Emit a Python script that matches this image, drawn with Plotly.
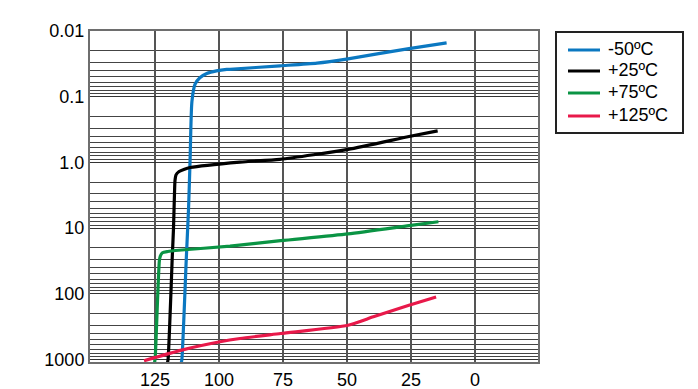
import plotly.graph_objects as go

# Data (x: temperature axis value, y: log value)
names = ["-50ºC", "+25ºC", "+75ºC", "+125ºC"]
colors = ["#0B78C1", "#000000", "#0A9444", "#E8194A"]

x_m50 = [114.8, 114.5, 112.8, 111.9, 111.3, 110.6, 109.4, 107.5, 104.8, 101.0, 97.0, 95.7, 76.2, 61.7, 49.6, 25.8, 11.1]
y_m50 = [1150, 1000, 30, 5.0, 0.9, 0.12, 0.065, 0.0515, 0.0445, 0.0405, 0.0385, 0.0383, 0.0339, 0.0308, 0.0265, 0.0185, 0.0152]

x_p25 = [120.2, 119.9, 118.2, 117.8, 117.4, 117.2, 116.8, 115.6, 113.5, 111.3, 91.8, 76.2, 49.6, 25.8, 14.6]
y_p25 = [1150, 1000, 24, 10.5, 3.0, 1.9, 1.55, 1.38, 1.27, 1.2, 0.99, 0.90, 0.635, 0.404, 0.331]

x_p75 = [125.2, 124.9, 123.3, 122.9, 122.1, 120.0, 117.0, 95.7, 75.9, 49.6, 25.8, 14.3]
y_p75 = [1150, 900, 31.3, 26.5, 23.8, 22.8, 22.0, 18.9, 15.6, 12.3, 9.22, 8.03]

x_p125 = [129.3, 114.6, 99.6, 91.8, 75.9, 49.6, 39.7, 25.8, 15.2]
y_p125 = [1050, 722, 540, 481, 404, 302, 225, 150, 112]

series_x = [x_m50, x_p25, x_p75, x_p125]
series_y = [y_m50, y_p25, y_p75, y_p125]

x_ticks = [125, 100, 75, 50, 25, 0]
y_ticks = [0.01, 0.1, 1, 10, 100, 1000]
y_ticktext = ["0.01", "0.1", "1.0", "10", "100", "1000"]
y_minor = [m * d for d in [0.01, 0.1, 1, 10, 100] for m in range(2, 10)]

# page layout (screen pixels; page body adds an 8px offset)
PL, PR, PT, PB = 90, 538, 31, 362
W, H = 698, 389


def px(x):
    return (x - PL) / (PR - PL)


def py(y):
    return (PB - y) / (PB - PT)


fig = go.Figure()
for n, c, xs, ys in zip(names, colors, series_x, series_y):
    fig.add_trace(go.Scatter(x=xs, y=ys, name=n, mode="lines",
                             line=dict(color=c, width=3.2, shape="spline", smoothing=0.6),
                             showlegend=False))

# legend drawn as a framed box with samples
shapes = [dict(type="rect", xref="paper", yref="paper",
               x0=px(556), x1=px(683), y0=py(32), y1=py(133),
               line=dict(color="#222", width=2), fillcolor="white", layer="above")]
annotations = []
legend_rows = [50, 71, 93, 116]
for n, c, ry in zip(names, colors, legend_rows):
    shapes.append(dict(type="line", xref="paper", yref="paper",
                       x0=px(568), x1=px(600), y0=py(ry), y1=py(ry),
                       line=dict(color=c, width=3), layer="above"))
    annotations.append(dict(xref="paper", yref="paper", x=px(606), y=py(ry - 1),
                            text=n, showarrow=False, xanchor="left", yanchor="middle",
                            font=dict(size=18, color="#000")))

fig.update_layout(
    width=W, height=H,
    margin=dict(l=PL - 8, r=W - (PR - 8), t=PT - 8, b=H - (PB - 8), autoexpand=False),
    paper_bgcolor="white", plot_bgcolor="white",
    font=dict(family="Liberation Sans, Arial, sans-serif", size=18, color="#000"),
    showlegend=False,
    shapes=shapes, annotations=annotations,
)
fig.update_xaxes(
    range=[150.4, -24.6], tickvals=x_ticks, ticks="", ticklabelstandoff=0,
    showgrid=True, gridcolor="#555", gridwidth=1.5,
    showline=True, mirror=True, linecolor="#6e6e6e", linewidth=2,
    zeroline=False, automargin=False,
)
fig.update_yaxes(
    type="log", range=[3.04, -2.0], tickvals=y_ticks, ticktext=y_ticktext, ticks="",
    showgrid=True, gridcolor="#333", gridwidth=1,
    minor=dict(tickvals=y_minor, showgrid=True, gridcolor="#444", gridwidth=1, ticks=""),
    showline=True, mirror=True, linecolor="#6e6e6e", linewidth=2,
    zeroline=False, automargin=False,
)
fig.write_html("out.html")
